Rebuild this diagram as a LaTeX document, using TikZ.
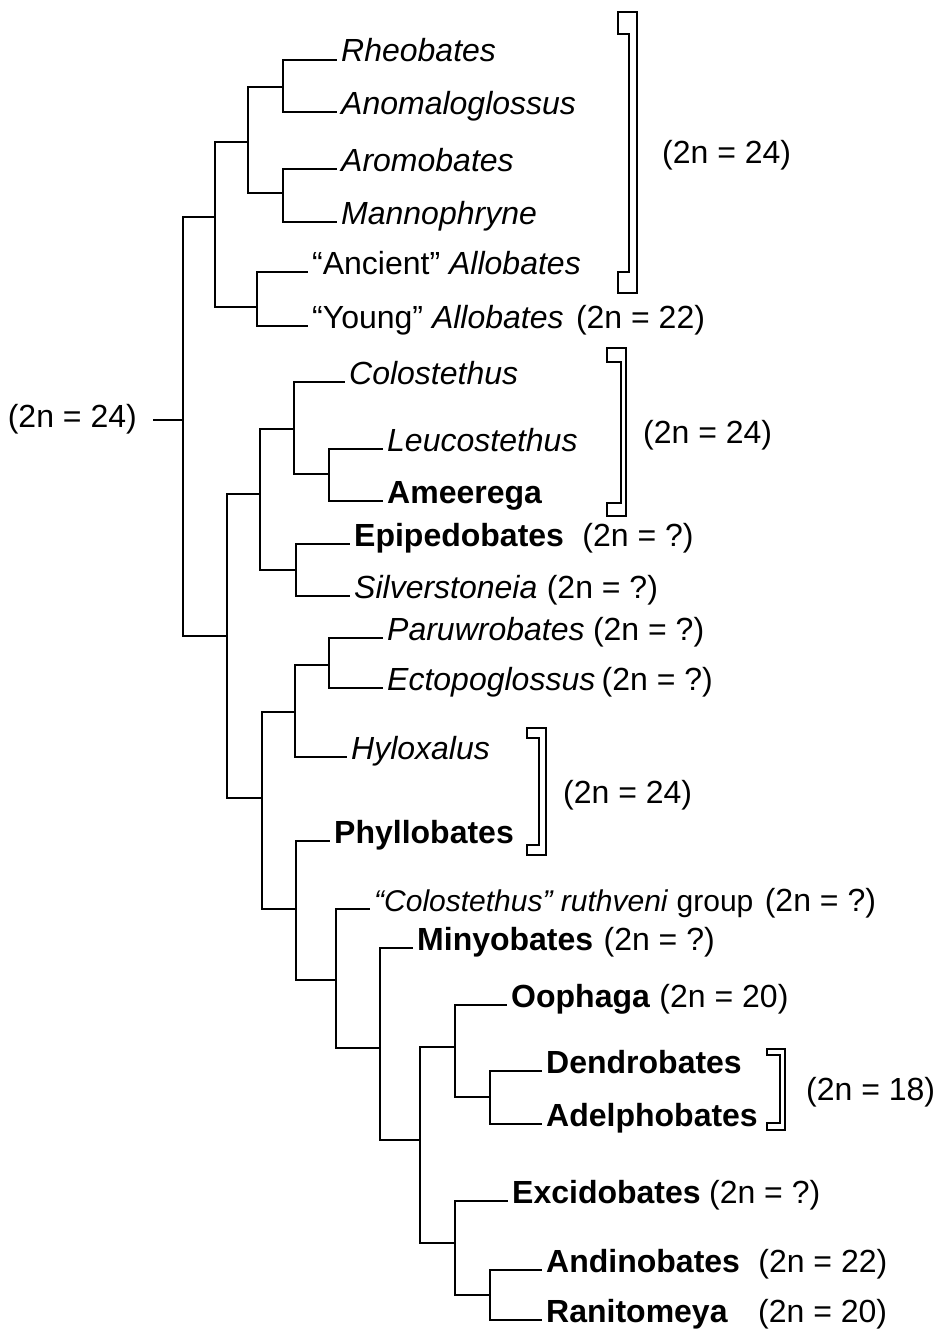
\documentclass[tikz,border=0pt]{standalone}
\usepackage{fontspec}
\setmainfont{Liberation Sans}
\usetikzlibrary{positioning}

\begin{document}
\begin{tikzpicture}[x=1pt, y=-1pt,
        taxon/.style={anchor=west, inner xsep=4pt, inner ysep=0pt, text height=12pt, text depth=8pt, font=\fontsize{32}{38}\selectfont},
        karyo/.style={taxon, inner xsep=0pt},
        branch/.style={draw, line width=2.5pt},
        bracket/.style={draw, line width=1.8pt}
    ]
        \useasboundingbox (0,0) rectangle (936,1330);
        % Internal nodes
        \coordinate (rootstem) at (153,420);
        \coordinate (root) at (183,420);
        \coordinate (n1) at (283,87);
        \coordinate (n2) at (283,193);
        \coordinate (n3) at (248,142);
        \coordinate (n4) at (257,307);
        \coordinate (n5) at (215,217);
        \coordinate (n6) at (227,636);
        \coordinate (n7) at (260,494);
        \coordinate (n8) at (294,429);
        \coordinate (n9) at (329,474);
        \coordinate (n10) at (296,570);
        \coordinate (n12) at (262,798);
        \coordinate (n13) at (295,712);
        \coordinate (n14) at (329,665);
        \coordinate (n15) at (296,909);
        \coordinate (n16) at (336,980);
        \coordinate (n17) at (380,1048);
        \coordinate (n18) at (420,1140);
        \coordinate (n19) at (455,1047);
        \coordinate (n20) at (490,1097);
        \coordinate (n21) at (455,1243);
        \coordinate (n22) at (490,1295);
        % Leaves
        \node[taxon] (rheo) at (337,60) {\textit{Rheobates}};
        \node[taxon] (anom) at (337,112) {\textit{Anomaloglossus}};
        \node[taxon] (arom) at (337,169) {\textit{Aromobates}};
        \node[taxon] (mann) at (337,222) {\textit{Mannophryne}};
        \node[taxon] (ancient) at (308,272) {“Ancient” \textit{Allobates}};
        \node[taxon] (young) at (308,326) {“Young” \textit{Allobates}};
        \node[taxon] (colo) at (345,382) {\textit{Colostethus}};
        \node[taxon] (leuco) at (383,449) {\textit{Leucostethus}};
        \node[taxon] (ameer) at (383,501) {\textbf{Ameerega}};
        \node[taxon] (epip) at (350,544) {\textbf{Epipedobates}};
        \node[taxon] (silv) at (350,596) {\textit{Silverstoneia}};
        \node[taxon] (paru) at (383,638) {\textit{Paruwrobates}};
        \node[taxon] (ecto) at (383,688) {\textit{Ectopoglossus}};
        \node[taxon] (hylox) at (347,757) {\textit{Hyloxalus}};
        \node[taxon] (phyllo) at (330,841) {\textbf{Phyllobates}};
        \node[taxon, font=\fontsize{30}{38}\selectfont] (ruth) at (370,909) {\textit{“Colostethus” ruthveni} group};
        \node[taxon] (miny) at (413,948) {\textbf{Minyobates}};
        \node[taxon] (ooph) at (507,1005) {\textbf{Oophaga}};
        \node[taxon] (dendro) at (542,1071) {\textbf{Dendrobates}};
        \node[taxon] (adelph) at (542,1124) {\textbf{Adelphobates}};
        \node[taxon] (excid) at (508,1201) {\textbf{Excidobates}};
        \node[taxon] (andin) at (542,1270) {\textbf{Andinobates}};
        \node[taxon] (ranit) at (542,1320) {\textbf{Ranitomeya}};
        % Chromosome numbers
        \node[karyo, anchor=east] (root-k) at (137,425) {(2n = 24)};
        \node[karyo, right=8pt of young] (young-k) {(2n = 22)};
        \node[karyo, right=14pt of epip] (epip-k) {(2n = ?)};
        \node[karyo, right=5pt of silv] (silv-k) {(2n = ?)};
        \node[karyo, right=4pt of paru] (paru-k) {(2n = ?)};
        \node[karyo, right=2pt of ecto] (ecto-k) {(2n = ?)};
        \node[karyo, right=7pt of ruth] (ruth-k) {(2n = ?)};
        \node[karyo, right=6pt of miny] (miny-k) {(2n = ?)};
        \node[karyo, right=5pt of ooph] (ooph-k) {(2n = 20)};
        \node[karyo, right=4pt of excid] (excid-k) {(2n = ?)};
        \node[karyo, right=14pt of andin] (andin-k) {(2n = 22)};
        \node[karyo, right=26pt of ranit] (ranit-k) {(2n = 20)};
        \node[karyo] (br1-k) at (662,161) {(2n = 24)};
        \node[karyo] (br2-k) at (643,441) {(2n = 24)};
        \node[karyo] (br3-k) at (563,801) {(2n = 24)};
        \node[karyo] (br4-k) at (806,1098) {(2n = 18)};
        % Branches
        \path[branch] (rootstem) -- (root);
        \path[branch] (root) |- (n5);
        \path[branch] (root) |- (n6);
        \path[branch] (n5) |- (n3);
        \path[branch] (n5) |- (n4);
        \path[branch] (n3) |- (n1);
        \path[branch] (n3) |- (n2);
        \path[branch] (n1) |- (rheo.west);
        \path[branch] (n1) |- (anom.west);
        \path[branch] (n2) |- (arom.west);
        \path[branch] (n2) |- (mann.west);
        \path[branch] (n4) |- (ancient.west);
        \path[branch] (n4) |- (young.west);
        \path[branch] (n6) |- (n7);
        \path[branch] (n6) |- (n12);
        \path[branch] (n7) |- (n8);
        \path[branch] (n7) |- (n10);
        \path[branch] (n8) |- (colo.west);
        \path[branch] (n8) |- (n9);
        \path[branch] (n9) |- (leuco.west);
        \path[branch] (n9) |- (ameer.west);
        \path[branch] (n10) |- (epip.west);
        \path[branch] (n10) |- (silv.west);
        \path[branch] (n12) |- (n13);
        \path[branch] (n12) |- (n15);
        \path[branch] (n13) |- (n14);
        \path[branch] (n13) |- (hylox.west);
        \path[branch] (n14) |- (paru.west);
        \path[branch] (n14) |- (ecto.west);
        \path[branch] (n15) |- (phyllo.west);
        \path[branch] (n15) |- (n16);
        \path[branch] (n16) |- (ruth.west);
        \path[branch] (n16) |- (n17);
        \path[branch] (n17) |- (miny.west);
        \path[branch] (n17) |- (n18);
        \path[branch] (n18) |- (n19);
        \path[branch] (n18) |- (n21);
        \path[branch] (n19) |- (ooph.west);
        \path[branch] (n19) |- (n20);
        \path[branch] (n20) |- (dendro.west);
        \path[branch] (n20) |- (adelph.west);
        \path[branch] (n21) |- (excid.west);
        \path[branch] (n21) |- (n22);
        \path[branch] (n22) |- (andin.west);
        \path[branch] (n22) |- (ranit.west);
        % Brackets
        \path[bracket] (618,12) -- (637,12) -- (637,293) -- (618,293) -- (618,272) -- (629,272) -- (629,34) -- (618,34) -- cycle;
        \path[bracket] (607,348) -- (626,348) -- (626,516) -- (607,516) -- (607,503) -- (621,503) -- (621,362) -- (607,362) -- cycle;
        \path[bracket] (527,728) -- (546,728) -- (546,855) -- (527,855) -- (527,845) -- (539,845) -- (539,738) -- (527,738) -- cycle;
        \path[bracket] (767,1049) -- (785,1049) -- (785,1130) -- (767,1130) -- (767,1123) -- (780,1123) -- (780,1055) -- (767,1055) -- cycle;
\end{tikzpicture}
\end{document}
